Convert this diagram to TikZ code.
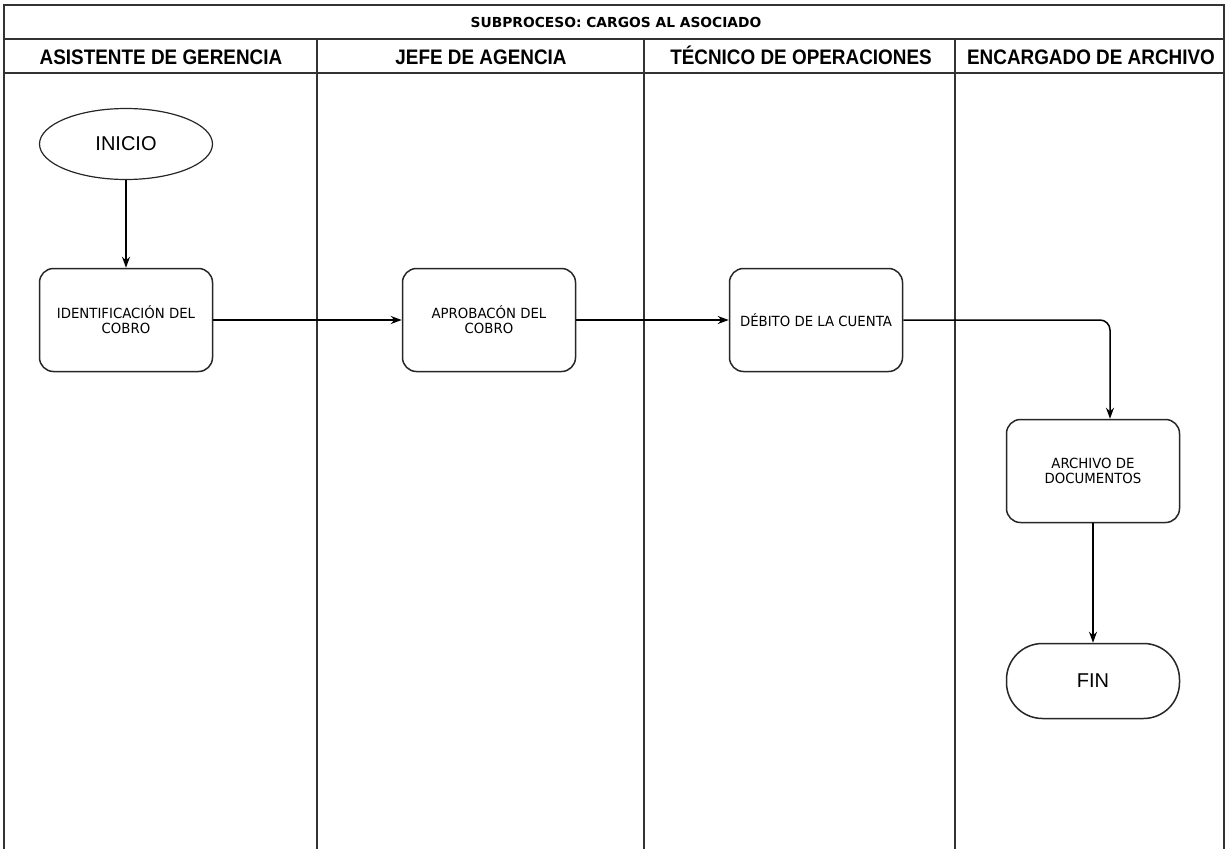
\documentclass[tikz,border=0pt]{standalone}
\usepackage{fontspec}
\setmainfont{Liberation Sans}
\newfontfamily\headfont[FakeStretch=0.9]{Liberation Sans}
\newfontfamily\boxfont{DejaVu Sans}
\newfontfamily\boxfontnarrow[FakeStretch=0.95]{DejaVu Sans}
\usetikzlibrary{shapes.geometric,arrows.meta}
\begin{document}
\begin{tikzpicture}[x=1pt,y=-1pt,
  lane/.style={draw=black!80,line width=2pt},
  headtxt/.style={font=\headfont\bfseries\fontsize{21}{22}\selectfont,anchor=center,inner sep=0pt,
    text height=15pt,text depth=0pt},
  titletxt/.style={font=\boxfont\bfseries\fontsize{13.8}{14}\selectfont,anchor=center,inner sep=0pt},
  procbox/.style={draw=black!85,line width=1.5pt,rounded corners=14pt,minimum width=173pt,minimum height=103pt,
    align=center,font=\boxfontnarrow\fontsize{14}{15}\selectfont,inner sep=2pt},
  terminal/.style={draw=black!85,line width=1.2pt,ellipse,minimum width=173pt,minimum height=71pt,
    font=\fontsize{20}{22}\selectfont,inner sep=0pt},
  termround/.style={draw=black!85,line width=1.5pt,rounded corners=36pt,minimum width=173pt,minimum height=75pt,
    font=\fontsize{20}{22}\selectfont,inner sep=0pt},
  flow/.style={draw=black,line width=1.5pt,-{Stealth[length=11pt,width=8pt]}}]
\useasboundingbox (0,0) rectangle (1227,849);
\fill[white] (0,0) rectangle (1227,849);

% pool frame, title row and header row
\draw[lane] (4,849) -- (4,5) -- (1224,5) -- (1224,849);
\draw[lane] (4,39) -- (1224,39);
\draw[lane] (4,73) -- (1224,73);
\draw[lane] (317,39) -- (317,849);
\draw[lane] (644,39) -- (644,849);
\draw[lane] (955,39) -- (955,849);

\node[titletxt] (title) at (616,22) {SUBPROCESO: CARGOS AL ASOCIADO};
\node[headtxt] (h1) at (161,57) {ASISTENTE DE GERENCIA};
\node[headtxt] (h2) at (481,57) {JEFE DE AGENCIA};
\node[headtxt] (h3) at (801,57) {TÉCNICO DE OPERACIONES};
\node[headtxt] (h4) at (1091,57) {ENCARGADO DE ARCHIVO};

% flow nodes
\node[terminal] (inicio) at (126,144) {INICIO};
\node[procbox] (ident) at (126,320) {IDENTIFICACIÓN DEL\\COBRO};
\node[procbox] (aprob) at (489,320) {APROBACÓN DEL\\COBRO};
\node[procbox] (debito) at (816,320) {DÉBITO DE LA CUENTA};
\node[procbox] (archivo) at (1093,471) {ARCHIVO DE\\DOCUMENTOS};
\node[termround] (fin) at (1093,681) {FIN};

% connectors
\draw[flow] (inicio) -- (ident);
\draw[flow] (ident) -- (aprob);
\draw[flow] (aprob) -- (debito);
\coordinate (bend) at (1110,320);
\draw[flow,rounded corners=10pt] (debito.east) -- (bend) -- (bend |- archivo.north);
\draw[flow] (archivo) -- (fin);
\end{tikzpicture}
\end{document}
